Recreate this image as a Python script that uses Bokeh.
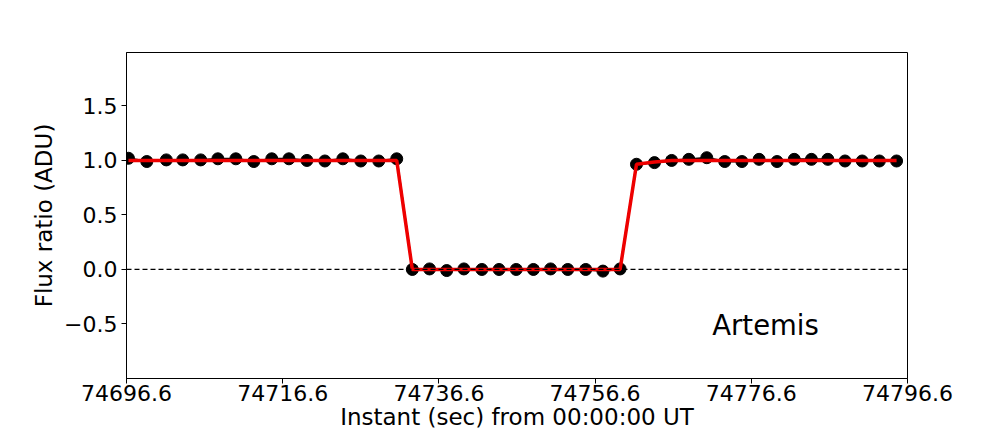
from bokeh.plotting import figure
from bokeh.models import FixedTicker, Span, Label, ColumnDataSource
from bokeh.embed import file_html
from bokeh.resources import INLINE

# Observation times (s from 00:00:00 UT)
time_s = [74696.85, 74699.20, 74701.70, 74703.80, 74706.10, 74708.30, 74710.60, 74712.90,
          74715.20, 74717.40, 74719.70, 74722.00, 74724.30, 74726.60, 74728.90, 74731.20,
          74733.20, 74735.40, 74737.60, 74739.80, 74742.10, 74744.30, 74746.50, 74748.70,
          74750.90, 74753.10, 74755.40, 74757.60, 74759.80,
          74761.90, 74764.20, 74766.40, 74768.60, 74770.90, 74773.20, 74775.40, 74777.60,
          74779.90, 74782.10, 74784.30, 74786.40, 74788.60, 74790.80, 74793.00, 74795.20]

# Observed flux ratio
flux = [1.02, 0.99, 1.005, 1.005, 1.005, 1.015, 1.015, 0.99,
        1.015, 1.015, 1.0, 0.995, 1.015, 0.995, 0.995, 1.015,
        0.0, 0.005, -0.01, 0.005, 0.0, 0.0, 0.0, 0.0,
        0.005, 0.0, 0.0, -0.015, 0.005,
        0.965, 0.98, 1.0, 1.01, 1.025, 0.99, 0.99, 1.01,
        0.99, 1.01, 1.01, 1.01, 0.995, 0.995, 0.995, 0.995]

# Model light curve
model = [1.0] * 16 + [0.0] * 13 + [0.965, 0.985] + [1.0] * 14

x_ticks = [74696.6, 74716.6, 74736.6, 74756.6, 74776.6, 74796.6]
x_tick_labels = ["74696.6", "74716.6", "74736.6", "74756.6", "74776.6", "74796.6"]
y_ticks = [-0.5, 0.0, 0.5, 1.0, 1.5]
y_tick_labels = ["\u22120.5", "0.0", "0.5", "1.0", "1.5"]

FONT = "DejaVu Sans"

W, H = 1008, 432
p = figure(width=W, height=H, output_backend="svg", toolbar_location=None,
           x_range=(74696.6, 74796.6), y_range=(-1.0, 1.99),
           min_border_left=126, min_border_right=W - 907,
           min_border_top=52, min_border_bottom=H - 378)
p.background_fill_color = "white"
p.border_fill_color = "white"
p.outline_line_color = "black"
p.outline_line_width = 1
p.grid.visible = False

src = ColumnDataSource(dict(t=time_s, f=flux, m=model))

p.add_layout(Span(location=0.0, dimension="width", line_color="black",
                  line_width=1.3, line_dash="5 3"))
p.line("t", "f", source=src, line_color="black", line_width=2)
p.scatter("t", "f", source=src, size=12, fill_color="black", line_color="black")
p.line("t", "m", source=src, line_color="#ee0000", line_width=3.5)

p.add_layout(Label(x=74771.6, y=-0.51, text="Artemis", text_font=FONT,
                   text_font_size="27.5px", text_color="black",
                   text_baseline="alphabetic", text_align="left"))

for ax in (p.xaxis[0], p.yaxis[0]):
    ax.major_label_text_font = FONT
    ax.major_label_text_font_size = "22px"
    ax.major_label_text_color = "black"
    ax.axis_label_text_font = FONT
    ax.axis_label_text_font_size = "23px"
    ax.axis_label_text_font_style = "normal"
    ax.axis_label_text_color = "black"
    ax.major_tick_in = 0
    ax.major_tick_out = 5
    ax.minor_tick_line_color = None
    ax.axis_line_color = "black"
    ax.major_tick_line_color = "black"

p.xaxis.major_label_standoff = 1
p.yaxis.major_label_standoff = 4
p.xaxis.ticker = FixedTicker(ticks=x_ticks)
p.xaxis.major_label_overrides = dict(zip(x_ticks, x_tick_labels))
p.yaxis.ticker = FixedTicker(ticks=y_ticks)
p.yaxis.major_label_overrides = dict(zip(y_ticks, y_tick_labels))
p.xaxis.axis_label = "Instant (sec) from 00:00:00 UT"
p.yaxis.axis_label = "Flux ratio (ADU)"
p.xaxis.axis_label_standoff = 0
p.yaxis.axis_label_standoff = 4

open("out.html", "w").write(file_html(p, INLINE))
